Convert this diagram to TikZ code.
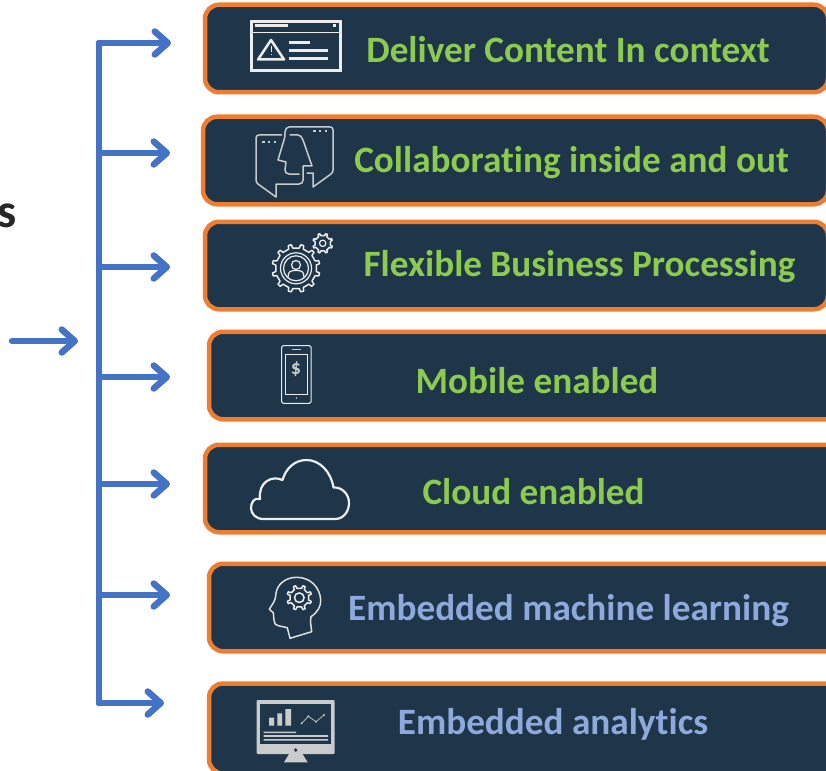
\documentclass[tikz,border=0pt]{standalone}
\usepackage{fontspec}
\setmainfont[Ligatures=NoCommon]{Carlito}
\usetikzlibrary{arrows.meta}
\definecolor{navy}{HTML}{1F364A}
\definecolor{edgeor}{HTML}{ED7D31}
\definecolor{flowblue}{HTML}{4472C4}
\definecolor{leafgreen}{HTML}{8DCB4E}
\definecolor{softblue}{HTML}{8EA9DB}
\definecolor{iconw}{HTML}{EDEDED}
\definecolor{icong}{HTML}{C9CBCC}
\tikzset{
  panel/.style={draw=edgeor,fill=navy,line width=4.5pt,rounded corners=14pt,minimum height=87.5pt,anchor=west,inner sep=0pt,outer sep=0pt},
  greentext/.style={text=leafgreen,font=\bfseries\fontsize{37.2}{40}\selectfont,anchor=base,inner sep=0pt},
  bluetext/.style={text=softblue,font=\bfseries\fontsize{37.2}{40}\selectfont,anchor=base,inner sep=0pt},
  flow/.style={draw=flowblue,line width=6.5pt,line cap=round,-{Straight Barb[length=13pt,width=23pt,line width=6.5pt,round]}},
  spine/.style={draw=flowblue,line width=6.5pt,line cap=round,line join=round},
  ico/.style={draw=iconw,line width=1.5pt,line join=round,line cap=round}
}
\newcommand{\gearshape}[5]{% cx cy rout rin n
  \draw[ico] ({#1+#4*cos(0.3*360/#5)},{#2+#4*sin(0.3*360/#5)})
  \foreach \i in {1,...,#5}{
    -- ({#1+#3*cos((\i-1+0.38)*360/#5)},{#2+#3*sin((\i-1+0.38)*360/#5)})
    -- ({#1+#3*cos((\i-1+0.62)*360/#5)},{#2+#3*sin((\i-1+0.62)*360/#5)})
    -- ({#1+#4*cos((\i-1+0.7)*360/#5)},{#2+#4*sin((\i-1+0.7)*360/#5)})
    -- ({#1+#4*cos((\i+0.3)*360/#5)},{#2+#4*sin((\i+0.3)*360/#5)})
  } -- cycle;}
\begin{document}
\begin{tikzpicture}[x=1pt,y=-1pt]
\useasboundingbox (0,0) rectangle (826,770);
\clip (0,0) rectangle (826,770);
% panels
\node[panel,minimum width=623pt] (p1) at (205,48.5) {};
\node[panel,minimum width=625pt] (p2) at (203,160.5) {};
\node[panel,minimum width=623pt] (p3) at (205,265.5) {};
\node[panel,minimum width=640pt] (p4) at (209,375.5) {};
\node[panel,minimum width=640pt] (p5) at (205,488.5) {};
\node[panel,minimum width=640pt] (p6) at (209,607.5) {};
\node[panel,minimum width=640pt,minimum height=90pt] (p7) at (209,728.5) {};
% labels
\node[greentext] (t1) at (568,63) {Deliver Content In context};
\node[greentext] (t2) at (571.5,172) {Collaborating inside and out};
\node[greentext] (t3) at (579.5,276) {Flexible Business Processing};
\node[greentext] (t4) at (537,393) {Mobile enabled};
\node[greentext] (t5) at (533.5,504) {Cloud enabled};
\node[bluetext] (t6) at (568.5,620) {Embedded machine learning};
\node[bluetext] (t7) at (553,734) {Embedded analytics};
\node[anchor=base east,inner sep=0pt,text=black!85,font=\bfseries\fontsize{48}{52}\selectfont] (cut) at (17,227) {s};
% connectors
\coordinate (top) at (99,43);
\coordinate (bot) at (99,703);
\coordinate (a1) at (99,43);\coordinate (a1e) at (171,43);
\coordinate (a2) at (99,153);\coordinate (a2e) at (170,153);
\coordinate (a3) at (99,267);\coordinate (a3e) at (170,267);
\coordinate (a4) at (99,377);\coordinate (a4e) at (170,377);
\coordinate (a5) at (99,484);\coordinate (a5e) at (170,484);
\coordinate (a6) at (99,595);\coordinate (a6e) at (170,595);
\coordinate (a7) at (99,703);\coordinate (a7e) at (164,703);
\coordinate (in) at (12,341);\coordinate (ine) at (78,341);
\draw[spine] (top) -- (bot);
\foreach \k in {1,...,7}{\draw[flow] (a\k) -- (a\k e);}
\draw[flow] (in) -- (ine);
% icon 1
\draw[iconw,line width=3pt] (251.5,21.5) rectangle (340,71);
\draw[iconw,line width=1.2pt] (252,32.5) -- (340,32.5);
\draw[iconw,line width=3pt] (255,26) -- (288,26);
\fill[iconw] (332.5,24.5) rectangle (335.5,27.5);
\draw[iconw,line width=2.5pt,line join=round] (271,40) -- (284,59.5) -- (258,59.5) -- cycle;
\draw[iconw,line width=1pt] (271,46) -- (271,52) (271,54) -- (271,55.5);
\draw[iconw,line width=3pt] (288.5,43) -- (310,43) (288.5,50.5) -- (328,50.5) (288.5,59) -- (328,59);
% icon 2
\draw[ico,draw=icong] (281.5,135) -- (259,135) .. controls (257,135) and (256,136) .. (256,138) -- (256,180) .. controls (256,182) and (257,183) .. (258,184) -- (276,197) -- (276,184) -- (299,184) .. controls (302,184) and (303,182) .. (303,180) -- (303,166) -- (312,166) -- (303,140) .. controls (302,137) and (300,135) .. (298,135) -- (290,135);
\draw[ico,draw=icong] (299,174) -- (289,174) .. controls (286,174) and (285,172) .. (285,170) -- (286,162) -- (278,160) -- (284,140) .. controls (285,137) and (285,136) .. (285,132) .. controls (285,129) and (287,127) .. (289,127) -- (330,127) .. controls (332,127) and (333,128) .. (333,130) -- (333,170) .. controls (333,172) and (332,173) .. (331,174) -- (313,187) -- (313,173) -- (307,173);
\foreach \px in {263.3,269,275}{\fill[icong] (\px-1.2,140.8) rectangle (\px+1.2,143.2);}
\foreach \px in {314.3,320,326}{\fill[icong] (\px-1.2,130.1) rectangle (\px+1.2,132.5);}
% icon 3
\gearshape{296}{268.3}{24}{20.5}{12}
\gearshape{322.7}{243.3}{10}{7.8}{8}
\draw[ico,line width=1.2pt] (322.7,243.3) circle (3.2);
\draw[ico,line width=1.2pt] (296,268.3) circle (15.5) (296,268.3) circle (12.5);
\draw[ico,line width=1.2pt] (296,265) circle (4.5);
\draw[ico,line width=1.2pt] (288,277) .. controls (288,271) and (291,270.5) .. (296,270.5) .. controls (301,270.5) and (304,271) .. (304,277);
% icon 4
\draw[iconw,line width=1pt,rounded corners=1.5pt] (281.7,345.7) rectangle (311,403.3);
\draw[iconw,line width=1pt] (285,354.3) rectangle (307.7,394.3);
\draw[icong,line width=1.2pt] (291.7,349.3) -- (300.7,349.3);
\fill[iconw] (296.3,398) circle (0.8);
\node[inner sep=0pt,text=icong,font=\bfseries\fontsize{20}{20}\selectfont] (dollar) at (296,369.3) {\$};
% icon 5
\draw[iconw,line width=2.2pt,line join=round] (263.5,519) -- (335,519) .. controls (344,519) and (349,511) .. (349,503) .. controls (349,494) and (342,487) .. (333.5,487.5) .. controls (331,472) and (320,460) .. (306.5,460) .. controls (295,460) and (286,468) .. (282.5,480) .. controls (272,475) and (258,482) .. (260,499) .. controls (254,497) and (251,503) .. (251,508) .. controls (251,514) and (256,519) .. (263.5,519) -- cycle;
% icon 6
\draw[ico,draw=icong!40!iconw] (290,638.3) -- (311.7,631.7) .. controls (311,626) and (310,621) .. (311,616.7) .. controls (318,612) and (321,606) .. (320.7,600) .. controls (320,587) and (310,577.3) .. (296.7,577.3) .. controls (285,577.3) and (277,585) .. (276,593.3) .. controls (276,597) and (275,599) .. (274,601.7) -- (269.3,609.3) -- (273.3,612.7) -- (274,620) .. controls (274.5,624) and (276,625.5) .. (278.3,625.7) -- (287.3,627.7) -- cycle;
\gearshape{299.3}{597.7}{12.5}{9.5}{8}
\draw[ico] (299.3,597.7) circle (4.8);
% icon 7
\fill[icong,rounded corners=1pt] (256.7,700) rectangle (334.7,754);
\fill[navy] (260,703.7) rectangle (331.3,744.3);
\fill[icong] (289,754) -- (302.5,754) -- (307.7,762.3) -- (284,762.3) -- cycle;
\fill[navy] (295.7,750) circle (1.8);
\fill[icong] (269,717.7) rectangle (274,725.7) (277.3,713.3) rectangle (282,725.7) (285.3,709) rectangle (291,725.7);
\fill[icong] (263.7,731.5) rectangle (296,733.2) (263.7,735.2) rectangle (328,736.8) (263.7,739) rectangle (328,740.6);
\draw[icong,line width=0.7pt] (301.7,723.3) -- (308.3,716.3) -- (316,721.7) -- (324,715);
\foreach \p in {(301.7,723.3),(308.3,716.3),(316,721.7),(324,715)}{\fill[icong] \p circle (1.1);}
\end{tikzpicture}
\end{document}
